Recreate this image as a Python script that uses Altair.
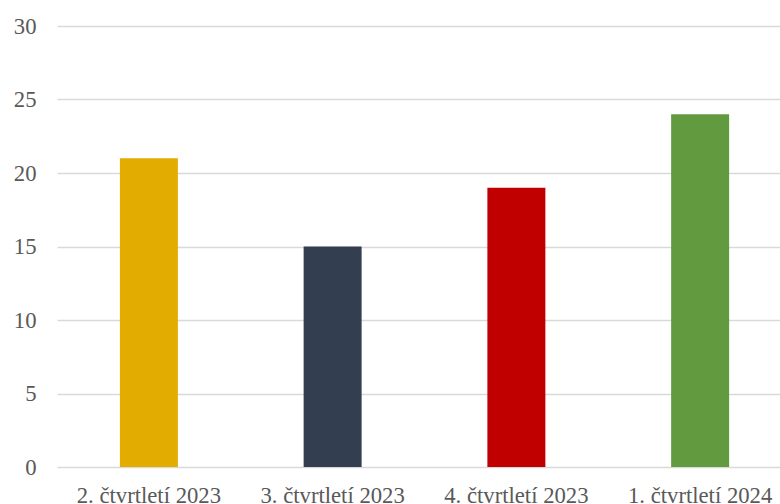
import altair as alt
import pandas as pd

categories = ["2. čtvrtletí 2023", "3. čtvrtletí 2023", "4. čtvrtletí 2023", "1. čtvrtletí 2024"]
values = [21, 15, 19, 24]
colors = ["#E2AC00", "#333F50", "#C00000", "#629B3F"]

df = pd.DataFrame({"cat": categories, "val": values, "col": colors})

FONT = "Times New Roman"

chart = alt.Chart(df).mark_bar(size=58).encode(
    x=alt.X("cat:N", sort=categories, title=None,
            scale=alt.Scale(paddingInner=0, paddingOuter=0, range=[0, 735]),
            axis=alt.Axis(labelAngle=0, labelFont=FONT, labelFontSize=22.7,
                          labelColor="#595959", ticks=False, domain=False,
                          labelPadding=17, labelBaseline="top", grid=False)),
    y=alt.Y("val:Q", title=None,
            scale=alt.Scale(domain=[0, 30], nice=False),
            axis=alt.Axis(values=[0, 5, 10, 15, 20, 25, 30], labelFont=FONT,
                          labelFontSize=22.7, labelColor="#595959", ticks=False,
                          domain=False, labelPadding=21, gridColor="#D9D9D9",
                          gridWidth=1.5)),
    color=alt.Color("col:N", scale=None),
).properties(
    width=723, height=441,
    background="white",
    autosize=alt.AutoSizeParams(type="none"),
    padding={"left": 57, "top": 26, "right": 0, "bottom": 37},
).configure_view(strokeWidth=0, stroke="transparent")

chart.save("out.html", embed_options={"renderer": "svg", "actions": False})
